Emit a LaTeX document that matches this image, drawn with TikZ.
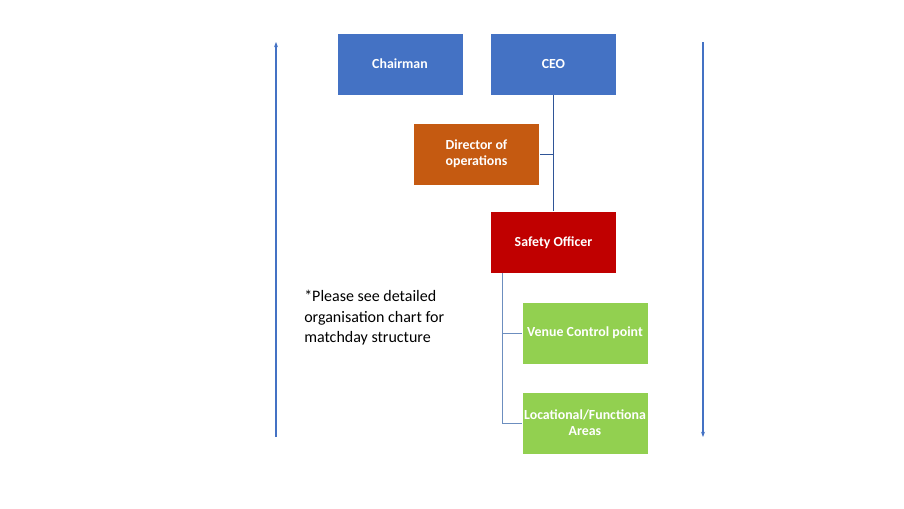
\documentclass[tikz,border=0pt]{standalone}
\usepackage{fontspec}
\setmainfont{Carlito}
\usetikzlibrary{arrows.meta,positioning}
\definecolor{boardblue}{HTML}{4472C4}
\definecolor{opsorange}{HTML}{C55A11}
\definecolor{safetyred}{HTML}{C00000}
\definecolor{teamgreen}{HTML}{92D050}
\definecolor{linkblue}{HTML}{2F5597}
\definecolor{linklight}{HTML}{6C8EBF}

\begin{document}
\begin{tikzpicture}[
      x=0.75pt,y=-0.75pt,
      role/.style={draw=white,line width=0.4pt,minimum width=94.5pt,
                   minimum height=46.5pt,text=white,
                   font=\bfseries\fontsize{10.4}{12}\selectfont,
                   align=center,inner sep=0pt},
      link/.style={linkblue,line width=0.75pt},
      sublink/.style={linklight,line width=0.75pt},
      span/.style={-{Stealth[length=4pt,width=3pt]},boardblue,line width=0.9pt},
    ]
    \useasboundingbox (0,0) rectangle (904,508);

    % ── Board ──────────────────────────────────────────────────────────────
    \node[role,fill=boardblue] (chair) at (400,64) {Chairman};
    \node[role,fill=boardblue] (ceo)   at (553.5,64) {CEO};

    % ── Operations ─────────────────────────────────────────────────────────
    \node[role,fill=opsorange] (dirops) at (476.5,154) {Director of\\operations};
    \node[role,fill=safetyred] (safety) at (553.5,242.5) {Safety Officer};

    % ── Matchday teams ─────────────────────────────────────────────────────
    \node[role,fill=teamgreen] (vcp)  at (585,333) {Venue Control point};
    \node[role,fill=teamgreen] (areas) at (585,423) {Locational/Functiona\\Areas};

    % ── CEO line ───────────────────────────────────────────────────────────
    \coordinate (ceojoin) at (553.5,154);
    \draw[link] (ceo.south) -- (safety.north);
    \draw[link] (ceojoin) -- (dirops.east);

    % ── Safety Officer line ────────────────────────────────────────────────
    \coordinate (sotop) at (502,273);
    \coordinate (sovcp) at (502,333);
    \coordinate (soareas) at (502,423);
    \draw[sublink] (sotop) -- (soareas) -- (areas.west);
    \draw[sublink] (sovcp) -- (vcp.west);

    % ── Side arrows ────────────────────────────────────────────────────────
    \coordinate (upfoot) at (276,437);
    \coordinate (uptip)  at (276,42);
    \coordinate (downtop) at (703,42);
    \coordinate (downtip) at (703,437);
    \draw[span] (upfoot) -- (uptip);
    \draw[span] (downtop) -- (downtip);

    % ── Note ───────────────────────────────────────────────────────────────
    \node[anchor=north west,align=left,inner sep=0pt,
          font=\fontsize{12}{15.3}\selectfont] (note) at (304,290)
          {*Please see detailed\\organisation chart for\\matchday structure};

  \end{tikzpicture}
\end{document}
